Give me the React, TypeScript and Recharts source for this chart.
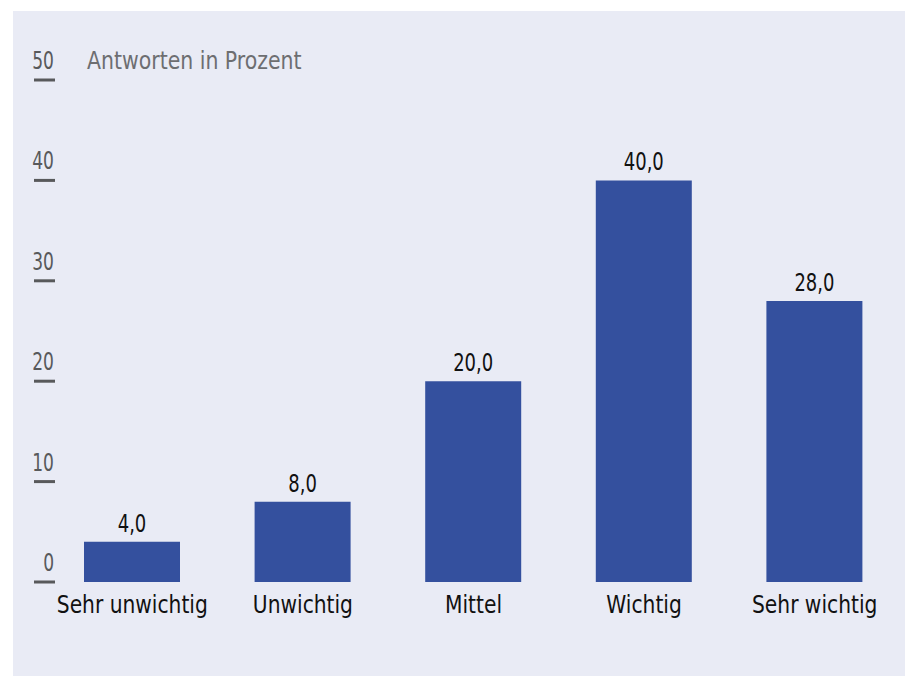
import { BarChart, Bar, XAxis, YAxis, LabelList, Customized } from "recharts";

const categories = ["Sehr unwichtig", "Unwichtig", "Mittel", "Wichtig", "Sehr wichtig"];
const values = [4.0, 8.0, 20.0, 40.0, 28.0];
const yTicks = [0, 10, 20, 30, 40, 50];
const unitLabel = "Antworten in Prozent";

const data = categories.map((name, i) => ({ name, value: values[i] }));

// only condensed face around is DejaVu Sans Condensed, squeeze it a bit more
const FONT = "'Liberation Sans Narrow', 'DejaVu Sans Condensed', 'Liberation Sans', sans-serif";
const BG = "#E9EBF5";
const BAR = "#34509E";
const AXIS = "#58595B";

function Squeezed({ x, y, s, anchor, size, fill, children }: any) {
  return (
    <text
      transform={`translate(${x},${y}) scale(${s},1)`}
      x={0}
      y={0}
      textAnchor={anchor}
      fontSize={size}
      fill={fill}
      fontFamily={FONT}
    >
      {children}
    </text>
  );
}

function YTick(props: any) {
  const { x, y, payload } = props;
  return (
    <g>
      <Squeezed x={x + 7} y={y - 11} s={0.76} anchor="end" size={25} fill={AXIS}>
        {payload.value}
      </Squeezed>
      <line x1={x - 13} x2={x + 8} y1={y} y2={y} stroke={AXIS} strokeWidth={3} />
    </g>
  );
}

function XTick(props: any) {
  const { x, y, payload } = props;
  return (
    <Squeezed x={x} y={y + 31} s={0.9} anchor="middle" size={25} fill="#111">
      {payload.value}
    </Squeezed>
  );
}

function ValueLabel(props: any) {
  const { x, y, width, value } = props;
  return (
    <Squeezed x={x + width / 2} y={y - 10} s={0.8} anchor="middle" size={25} fill="#111">
      {Number(value).toFixed(1).replace(".", ",")}
    </Squeezed>
  );
}

export default function App() {
  return (
    <div style={{ position: "absolute", left: 0, top: 0, width: 905, height: 676, background: "#fff", overflow: "hidden" }}>
      <div style={{ position: "absolute", left: 13, top: 11, right: 0, bottom: 0, background: BG }} />
      <div style={{ position: "absolute", left: 0, top: 0 }}>
        <BarChart width={905} height={676} data={data} margin={{ top: 80, right: 5, left: 0, bottom: 54 }} barSize={96}>
          <XAxis
            dataKey="name"
            axisLine={false}
            tickLine={false}
            tickSize={0}
            tickMargin={0}
            height={40}
            interval={0}
            tick={<XTick />}
          />
          <YAxis
            domain={[0, 50]}
            ticks={yTicks}
            axisLine={false}
            tickLine={false}
            tickSize={0}
            tickMargin={0}
            width={47}
            interval={0}
            tick={<YTick />}
          />
          <Bar dataKey="value" fill={BAR} isAnimationActive={false}>
            <LabelList dataKey="value" content={<ValueLabel />} />
          </Bar>
          <Customized
            component={() => (
              <Squeezed x={87} y={69} s={0.91} anchor="start" size={25} fill="#6D6E71">
                {unitLabel}
              </Squeezed>
            )}
          />
        </BarChart>
      </div>
    </div>
  );
}
